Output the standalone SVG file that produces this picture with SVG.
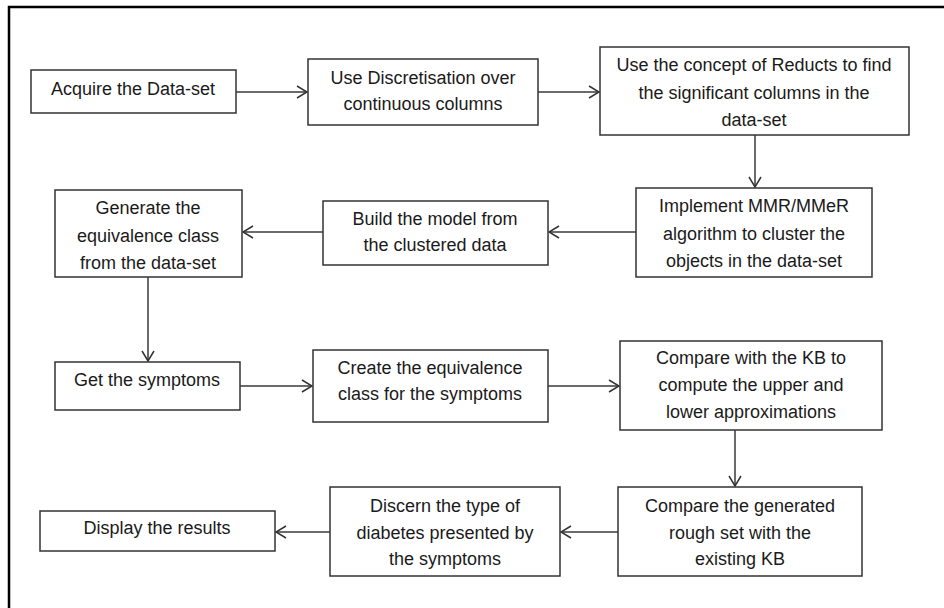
<svg xmlns="http://www.w3.org/2000/svg" width="944" height="608" viewBox="0 0 944 608">
<defs>
<marker id="arr" viewBox="0 0 12 14" refX="11" refY="7" markerWidth="12" markerHeight="14" markerUnits="userSpaceOnUse" orient="auto">
<path d="M1,1 L11,7 L1,13" fill="none" stroke="#333" stroke-width="1.5"/>
</marker>
<style>
.box{fill:#fff;stroke:#333;stroke-width:1.5}
.t{font-family:"Liberation Sans",Arial,sans-serif;font-size:18px;fill:#1a1a1a;text-anchor:middle}
.c{stroke:#3a3a3a;stroke-width:1.5;fill:none;marker-end:url(#arr)}
</style>
</defs>
<rect width="944" height="608" fill="#fff"/>
<path d="M9,608 L9,7 L944,7" fill="none" stroke="#000" stroke-width="2.5"/>

<g id="n1"><rect class="box" x="31" y="70" width="205" height="43"/><text class="t" x="133" y="95">Acquire the Data-set</text></g>
<g id="n2"><rect class="box" x="308" y="59" width="230" height="66"/><text class="t" x="423" y="84">Use Discretisation over</text><text class="t" x="423" y="110">continuous columns</text></g>
<g id="n3"><rect class="box" x="600" y="47" width="309" height="88"/><text class="t" x="754" y="71">Use the concept of Reducts to find</text><text class="t" x="754" y="99">the significant columns in the</text><text class="t" x="754" y="126">data-set</text></g>
<g id="n4"><rect class="box" x="636" y="188" width="236" height="89"/><text class="t" x="754" y="212">Implement MMR/MMeR</text><text class="t" x="754" y="240">algorithm to cluster the</text><text class="t" x="754" y="267">objects in the data-set</text></g>
<g id="n5"><rect class="box" x="323" y="201" width="225" height="64"/><text class="t" x="435" y="225">Build the model from</text><text class="t" x="435" y="251">the clustered data</text></g>
<g id="n6"><rect class="box" x="55" y="190" width="187" height="87"/><text class="t" x="148" y="214">Generate the</text><text class="t" x="148" y="242">equivalence class</text><text class="t" x="148" y="269">from the data-set</text></g>
<g id="n7"><rect class="box" x="55" y="362" width="185" height="48"/><text class="t" x="147" y="386">Get the symptoms</text></g>
<g id="n8"><rect class="box" x="313" y="350" width="235" height="72"/><text class="t" x="430" y="374">Create the equivalence</text><text class="t" x="430" y="400">class for the symptoms</text></g>
<g id="n9"><rect class="box" x="620" y="341" width="262" height="89"/><text class="t" x="751" y="364">Compare with the KB to</text><text class="t" x="751" y="391">compute the upper and</text><text class="t" x="751" y="418">lower approximations</text></g>
<g id="n10"><rect class="box" x="618" y="487" width="244" height="89"/><text class="t" x="740" y="512">Compare the generated</text><text class="t" x="740" y="539">rough set with the</text><text class="t" x="740" y="565">existing KB</text></g>
<g id="n11"><rect class="box" x="330" y="487" width="230" height="89"/><text class="t" x="445" y="512">Discern the type of</text><text class="t" x="445" y="539">diabetes presented by</text><text class="t" x="445" y="565">the symptoms</text></g>
<g id="n12"><rect class="box" x="40" y="511" width="235" height="40"/><text class="t" x="157" y="534">Display the results</text></g>

<g id="connectors">
<line class="c" x1="236" y1="92" x2="307" y2="92"/>
<line class="c" x1="538" y1="92" x2="599" y2="92"/>
<line class="c" x1="755" y1="135" x2="755" y2="187"/>
<line class="c" x1="636" y1="232" x2="549" y2="232"/>
<line class="c" x1="323" y1="232" x2="243" y2="232"/>
<line class="c" x1="148" y1="277" x2="148" y2="361"/>
<line class="c" x1="240" y1="386" x2="312" y2="386"/>
<line class="c" x1="548" y1="386" x2="619" y2="386"/>
<line class="c" x1="735" y1="430" x2="735" y2="486"/>
<line class="c" x1="618" y1="532" x2="561" y2="532"/>
<line class="c" x1="330" y1="532" x2="276" y2="532"/>
</g>
</svg>
